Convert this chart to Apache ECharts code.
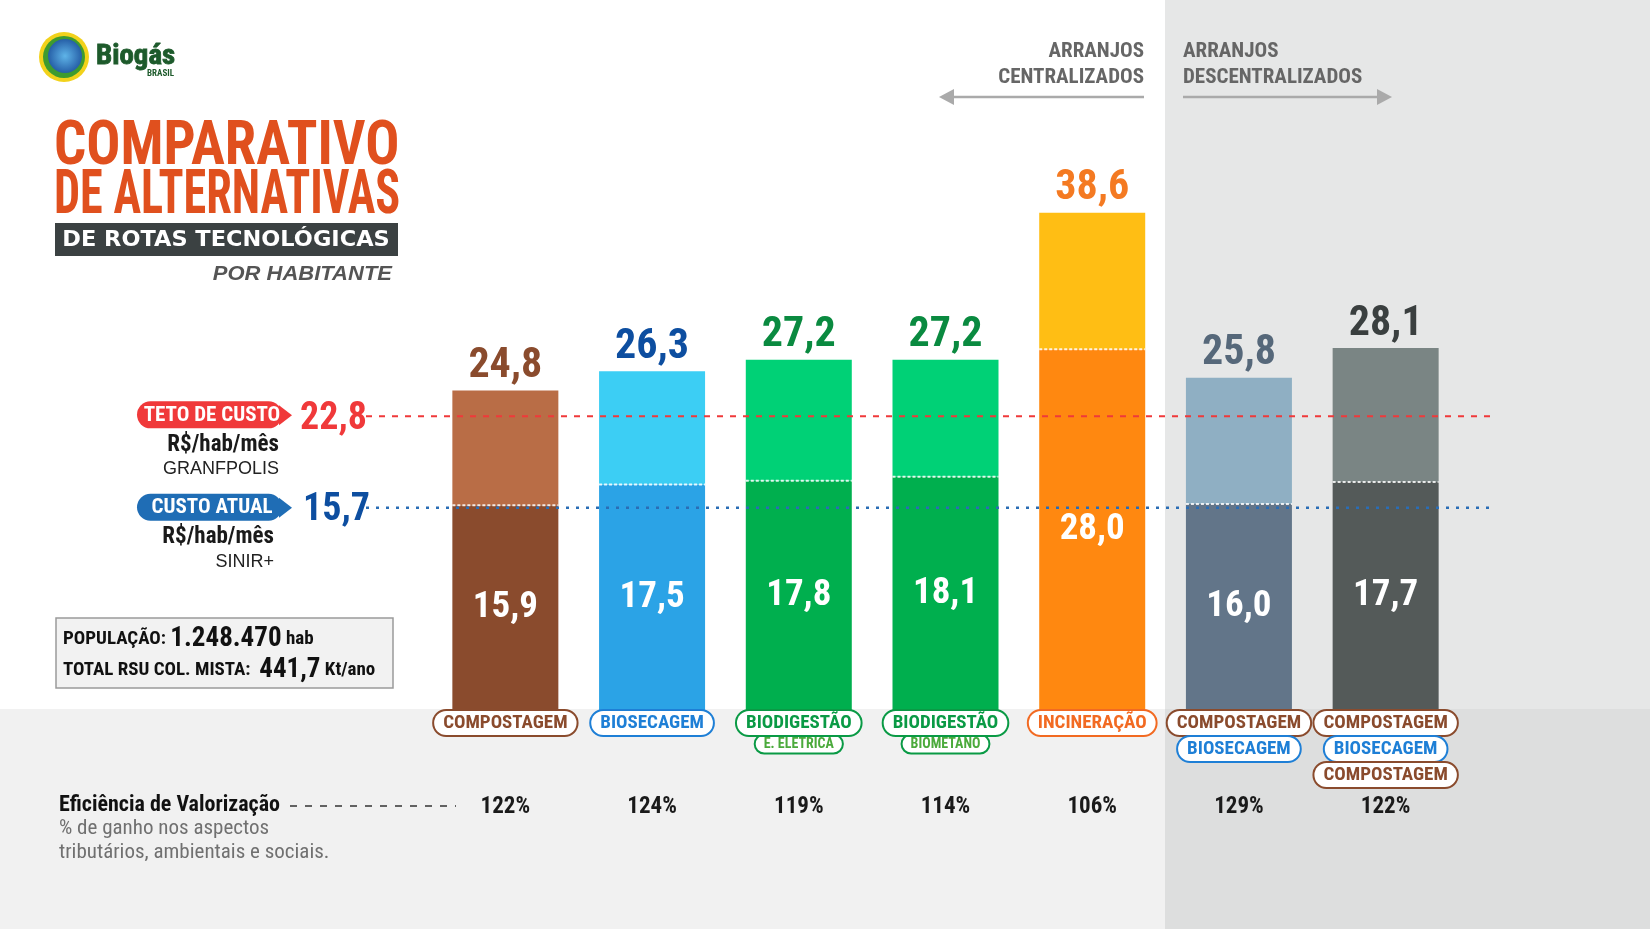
<!DOCTYPE html>
<html><head><meta charset="utf-8">
<script src="https://cdn.jsdelivr.net/npm/echarts@6/dist/echarts.min.js"></script>
<style>html,body{margin:0;padding:0;background:#fff}#c{width:1650px;height:929px}</style>
</head><body><div id="c"></div>
<script>
// ---- data ----
var categories = ['COMPOSTAGEM', 'BIOSECAGEM', 'BIODIGESTÃO E. ELÉTRICA', 'BIODIGESTÃO BIOMETANO', 'INCINERAÇÃO', 'COMPOSTAGEM + BIOSECAGEM', 'COMPOSTAGEM + BIOSECAGEM + COMPOSTAGEM'];
var totalValues = [24.8, 26.3, 27.2, 27.2, 38.6, 25.8, 28.1];
var baseValues = [15.9, 17.5, 17.8, 18.1, 28.0, 16.0, 17.7];
var efficiency = ['122%', '124%', '119%', '114%', '106%', '129%', '122%'];
var tetoCusto = 22.8;
var custoAtual = 15.7;
// ---- styles ----
var baseColors = ['#8A4B2D', '#2BA3E6', '#00AF4E', '#00AF4E', '#FF8810', '#627589', '#545A59'];
var topColors = ['#B96D46', '#3CCEF4', '#00D176', '#00D176', '#FFBE14', '#8FAFC3', '#7A8584'];
var totalLabelColors = ['#8A4B2D', '#0D4EA0', '#0A8A40', '#0A8A40', '#F47A22', '#56687A', '#3A3F3F'];
var pillStyles = {
  brown: {c: '#8A4B2D'}, blue: {c: '#1E7FD6'}, green: {c: '#0A9A45'}, orange: {c: '#F26A22'}, lgreen: {c: '#4BAA3C', b: '#0A9A45'}
};
var pills = [
  [['COMPOSTAGEM', 'brown']],
  [['BIOSECAGEM', 'blue']],
  [['BIODIGESTÃO', 'green'], ['E. ELÉTRICA', 'lgreen', 1]],
  [['BIODIGESTÃO', 'green'], ['BIOMETANO', 'lgreen', 1]],
  [['INCINERAÇÃO', 'orange']],
  [['COMPOSTAGEM', 'brown'], ['BIOSECAGEM', 'blue']],
  [['COMPOSTAGEM', 'brown'], ['BIOSECAGEM', 'blue'], ['COMPOSTAGEM', 'brown']]
];
var FN = '"Liberation Sans Narrow", "Roboto Condensed", "DejaVu Sans Condensed", "Noto Sans", sans-serif';

var topValues = totalValues.map(function (t, i) { return +(t - baseValues[i]).toFixed(2); });

var chart = echarts.init(document.getElementById('c'), null, {renderer: 'canvas'});
var yMax = 50;
var option = {
  animation: false,
  backgroundColor: '#ffffff',
  grid: [
    {left: 432, right: 191, top: 66, bottom: 219},
    {left: 366, right: 156, top: 66, bottom: 219}
  ],
  xAxis: [
    {type: 'category', data: categories, gridIndex: 0, show: false},
    {type: 'value', gridIndex: 1, min: 0, max: 1, show: false}
  ],
  yAxis: [
    {type: 'value', gridIndex: 0, min: 0, max: yMax, show: false},
    {type: 'value', gridIndex: 1, min: 0, max: yMax, show: false}
  ],
  series: [
    {
      type: 'bar', stack: 's', barWidth: 106, z: 2,
      data: baseValues.map(function (v, i) { return {value: v, itemStyle: {color: baseColors[i]}}; }),
      label: {show: true, position: 'inside', color: '#fff', fontFamily: FN, fontWeight: 'bold', fontSize: 37,
        formatter: function (p) { return baseValues[p.dataIndex].toFixed(1).replace('.', ','); }}
    },
    {
      type: 'bar', stack: 's', barWidth: 106, z: 2,
      data: topValues.map(function (v, i) { return {value: v, itemStyle: {color: topColors[i]}, label: {color: totalLabelColors[i]}}; }),
      label: {show: true, position: 'top', distance: 3, fontFamily: FN, fontWeight: 'bold', fontSize: 42,
        formatter: function (p) { return totalValues[p.dataIndex].toFixed(1).replace('.', ','); }}
    },
    {
      type: 'custom', z: 3,
      renderItem: function (params, api) {
        var p = api.coord([api.value(0), api.value(1)]);
        return {type: 'line', shape: {x1: p[0] - 53, y1: p[1], x2: p[0] + 53, y2: p[1]},
          style: {stroke: 'rgba(255,255,255,0.85)', lineWidth: 2, lineDash: [3, 2]}};
      },
      data: baseValues.map(function (v, i) { return [i, v]; })
    },
    {
      type: 'line', xAxisIndex: 1, yAxisIndex: 1, symbol: 'none', z: 5,
      lineStyle: {color: '#F0393A', width: 2, type: [6, 7]},
      data: [[0, tetoCusto], [1, tetoCusto]]
    },
    {
      type: 'line', xAxisIndex: 1, yAxisIndex: 1, symbol: 'none', z: 5,
      lineStyle: {color: '#2A6DB5', width: 2.5, type: [3, 7]},
      data: [[0, custoAtual], [1, custoAtual]]
    }
  ]
};
chart.setOption(option);

// ---- graphics ----
var g = [];
// backgrounds
g.push({type: 'rect', z: -10, silent: true, shape: {x: 0, y: 709, width: 1650, height: 220}, style: {fill: '#F1F1F1'}});
g.push({type: 'rect', z: -9, silent: true, shape: {x: 1165, y: 0, width: 485, height: 709}, style: {fill: '#E6E7E7'}});
g.push({type: 'rect', z: -9, silent: true, shape: {x: 1165, y: 709, width: 485, height: 220}, style: {fill: '#DDDEDE'}});

// logo
g.push({type: 'circle', shape: {cx: 64, cy: 57, r: 25}, style: {fill: '#F2D21B'}});
g.push({type: 'circle', shape: {cx: 64, cy: 57, r: 21}, style: {fill: '#3E9B2F'}});
g.push({type: 'circle', shape: {cx: 65, cy: 56, r: 17},
  style: {fill: new echarts.graphic.RadialGradient(0.5, 0.5, 0.6, [{offset: 0, color: '#5FB4E8'}, {offset: 1, color: '#1A4E9A'}])}});
g.push({type: 'text', x: 96, y: 57, scaleX: 1.07, style: {x: 0, y: 0, text: 'Biogás', font: 'bold 27px ' + FN, fill: '#1D5A2B', verticalAlign: 'middle', stroke: '#1D5A2B', lineWidth: 0.8}});
g.push({type: 'text', style: {x: 174, y: 74, text: 'BRASIL', font: 'bold 9px ' + FN, fill: '#1D5A2B', align: 'right', verticalAlign: 'middle'}});

// title
g.push({type: 'text', x: 54, y: 148, scaleX: 0.915, style: {x: 0, y: 0, text: 'COMPARATIVO', font: 'bold 62px ' + FN, fill: '#E0501E', verticalAlign: 'middle'}});
g.push({type: 'text', x: 54, y: 197, scaleX: 0.745, style: {x: 0, y: 0, text: 'DE ALTERNATIVAS', font: 'bold 62px ' + FN, fill: '#E0501E', verticalAlign: 'middle'}});
g.push({type: 'rect', shape: {x: 55, y: 223, width: 343, height: 33}, style: {fill: '#3B4142'}});
g.push({type: 'text', x: 226, y: 240, scaleX: 1.02, style: {x: 0, y: 0, text: 'DE ROTAS TECNOLÓGICAS', font: 'bold 22px "DejaVu Sans", sans-serif', fill: '#fff', align: 'center', verticalAlign: 'middle'}});
g.push({type: 'text', x: 392, y: 274, scaleX: 1.1, style: {x: 0, y: 0, text: 'POR HABITANTE', font: 'italic bold 20px "Liberation Sans", Arial, sans-serif', fill: '#555', align: 'right', verticalAlign: 'middle'}});

// arranjos
g.push({type: 'text', style: {x: 1144, y: 52, text: 'ARRANJOS', font: 'bold 21px ' + FN, fill: '#666', align: 'right', verticalAlign: 'middle'}});
g.push({type: 'text', style: {x: 1144, y: 78, text: 'CENTRALIZADOS', font: 'bold 21px ' + FN, fill: '#666', align: 'right', verticalAlign: 'middle'}});
g.push({type: 'text', style: {x: 1183, y: 52, text: 'ARRANJOS', font: 'bold 21px ' + FN, fill: '#666', align: 'left', verticalAlign: 'middle'}});
g.push({type: 'text', style: {x: 1183, y: 78, text: 'DESCENTRALIZADOS', font: 'bold 21px ' + FN, fill: '#666', align: 'left', verticalAlign: 'middle'}});
g.push({type: 'line', shape: {x1: 950, y1: 97, x2: 1144, y2: 97}, style: {stroke: '#AAAAAA', lineWidth: 2.5}});
g.push({type: 'polygon', shape: {points: [[939, 97], [954, 89], [954, 105]]}, style: {fill: '#AAAAAA'}});
g.push({type: 'line', shape: {x1: 1183, y1: 97, x2: 1380, y2: 97}, style: {stroke: '#AAAAAA', lineWidth: 2.5}});
g.push({type: 'polygon', shape: {points: [[1392, 97], [1377, 89], [1377, 105]]}, style: {fill: '#AAAAAA'}});

// reference labels
var yTeto = chart.convertToPixel({yAxisIndex: 0}, tetoCusto);
var yAtual = chart.convertToPixel({yAxisIndex: 0}, custoAtual);
function pill(y, color, text) {
  g.push({type: 'rect', shape: {x: 137, y: y - 14, width: 145, height: 27, r: 13.5}, style: {fill: color}});
  g.push({type: 'polygon', shape: {points: [[279, y - 10], [292, y], [279, y + 10]]}, style: {fill: color}});
  g.push({type: 'text', style: {x: 212, y: y, text: text, font: 'bold 21px ' + FN, fill: '#fff', align: 'center', verticalAlign: 'middle'}});
}
pill(yTeto - 1, '#F0393A', 'TETO DE CUSTO');
g.push({type: 'text', style: {x: 300, y: yTeto + 3, text: '22,8', font: 'bold 38px ' + FN, fill: '#F0393A', verticalAlign: 'middle'}});
g.push({type: 'text', style: {x: 279, y: yTeto + 29, text: 'R$/hab/mês', font: 'bold 23px ' + FN, fill: '#1a1a1a', align: 'right', verticalAlign: 'middle'}});
g.push({type: 'text', style: {x: 279, y: yTeto + 53, text: 'GRANFPOLIS', font: '18px "Liberation Sans", Arial, sans-serif', fill: '#222', align: 'right', verticalAlign: 'middle'}});
pill(yAtual, '#1F6DB5', 'CUSTO ATUAL');
g.push({type: 'text', style: {x: 303, y: yAtual + 3, text: '15,7', font: 'bold 38px ' + FN, fill: '#0D4EA0', verticalAlign: 'middle'}});
g.push({type: 'text', style: {x: 274, y: yAtual + 29, text: 'R$/hab/mês', font: 'bold 23px ' + FN, fill: '#1a1a1a', align: 'right', verticalAlign: 'middle'}});
g.push({type: 'text', style: {x: 274, y: yAtual + 54, text: 'SINIR+', font: '18px "Liberation Sans", Arial, sans-serif', fill: '#222', align: 'right', verticalAlign: 'middle'}});

// population box
g.push({type: 'rect', shape: {x: 56, y: 618, width: 337, height: 70}, style: {fill: '#F2F2F2', stroke: '#9A9A9A', lineWidth: 1.5}});
g.push({type: 'text', style: {x: 63, y: 639, text: '{a|POPULAÇÃO: }{b|1.248.470}{a| hab}', fill: '#111', verticalAlign: 'middle',
  rich: {a: {font: 'bold 19px ' + FN, fill: '#111'}, b: {font: 'bold 27px ' + FN, fill: '#111'}}}});
g.push({type: 'text', style: {x: 63, y: 670, text: '{a|TOTAL RSU COL. MISTA:  }{b|441,7}{a| Kt/ano}', fill: '#111', verticalAlign: 'middle',
  rich: {a: {font: 'bold 19px ' + FN, fill: '#111'}, b: {font: 'bold 27px ' + FN, fill: '#111'}}}});

// efficiency row
g.push({type: 'text', style: {x: 59, y: 805, text: 'Eficiência de Valorização', font: 'bold 22px ' + FN, fill: '#111', verticalAlign: 'middle'}});
g.push({type: 'line', shape: {x1: 290, y1: 806, x2: 456, y2: 806}, style: {stroke: '#333', lineWidth: 1.5, lineDash: [7, 8]}});
g.push({type: 'text', style: {x: 59, y: 829, text: '% de ganho nos aspectos', font: '21px ' + FN, fill: '#707070', verticalAlign: 'middle'}});
g.push({type: 'text', style: {x: 59, y: 853, text: 'tributários, ambientais e sociais.', font: '21px ' + FN, fill: '#707070', verticalAlign: 'middle'}});

categories.forEach(function (c, i) {
  var x = chart.convertToPixel({xAxisIndex: 0}, i);
  g.push({type: 'text', style: {x: x, y: 807, text: efficiency[i], font: 'bold 23px ' + FN, fill: '#1a1a1a', align: 'center', verticalAlign: 'middle'}});
  var ys = [723, 749, 775];
  pills[i].forEach(function (p, k) {
    var st = pillStyles[p[1]];
    var small = p[2] === 1;
    var y = small ? 744 : ys[k];
    g.push({type: 'text', z: small ? 20 : 21 + k, style: {
      x: x, y: y, text: p[0], align: 'center', verticalAlign: 'middle',
      font: 'bold ' + (small ? 14 : 19) + 'px ' + FN, fill: st.c,
      backgroundColor: '#fff', borderColor: st.b || st.c, borderWidth: 2, borderRadius: small ? 9 : 12,
      padding: small ? [2, 8, 1, 8] : [3, 9, 2, 9]
    }});
  });
});

chart.setOption({graphic: {elements: g}});
</script>
</body></html>
